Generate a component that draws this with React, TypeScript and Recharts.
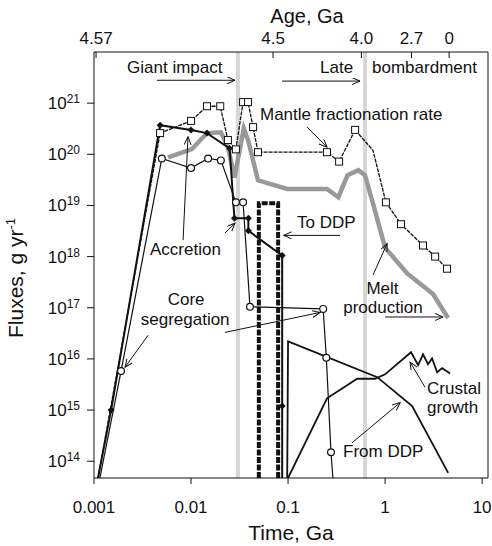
import React from 'react';
import {
  ComposedChart,
  Line,
  XAxis,
  YAxis,
  ReferenceArea,
  ReferenceLine,
  ReferenceDot
} from 'recharts';

const FONT = '"Liberation Sans", Arial, Helvetica, sans-serif';
const INK = '#111';

// lower edge of the flux axis, lines that run off the bottom end here
const BOTTOM = 4.7e13;

// [time in Ga, flux in g/yr]
const accretion = [
  [0.0011, BOTTOM], [0.0015, 1e15], [0.0048, 3.7e20], [0.01, 3.0e20], [0.0146, 2.6e20],
  [0.025, 1.3e20], [0.028, 5.6e18], [0.039, 5.6e18], [0.039, 3.2e18], [0.087, 1.05e18],
  [0.087, 1.2e15], [0.087, BOTTOM]
];

const mantleRate = [
  [0.0011, BOTTOM], [0.0048, 2.6e20], [0.01, 4.5e20], [0.0146, 8.7e20], [0.02, 8.7e20],
  [0.024, 1.9e20], [0.029, 1.25e20], [0.0344, 1.05e21], [0.0387, 1.05e21], [0.0436, 3.4e20],
  [0.049, 1.1e20], [0.252, 1.1e20], [0.336, 7.2e19], [0.491, 3.0e20], [0.75, 1.2e20],
  [1.02, 1.15e19], [1.46, 4.3e18], [2.46, 1.65e18], [3.28, 1.0e18], [4.35, 5.8e17]
];
const mantleUnmarked = [0.75];

const coreSegregation = [
  [0.00115, BOTTOM], [0.0019, 5.8e15], [0.005, 8.3e19], [0.01, 5.4e19], [0.015, 8.3e19],
  [0.0203, 7.6e19], [0.029, 1.15e19], [0.0344, 1.15e19], [0.0405, 1.05e17], [0.23, 9.5e16],
  [0.248, 1.05e16], [0.277, 1.5e14], [0.29, BOTTOM]
];

const meltProduction = [
  [0.0058, 8.7e19], [0.0102, 1.26e20], [0.0146, 2.6e20], [0.0203, 2.7e20], [0.024, 1.4e20],
  [0.028, 3.5e19], [0.035, 3.2e20], [0.0387, 1.9e20], [0.049, 3.1e19], [0.098, 2.1e19],
  [0.252, 2.1e19], [0.33, 1.45e19], [0.41, 3.9e19], [0.53, 4.9e19], [0.62, 3.9e19],
  [0.75, 1.1e19], [1.0, 1.5e18], [1.69, 4.7e17], [3.12, 1.86e17], [4.46, 6.3e16]
];

const toDDP = [[0.05, BOTTOM], [0.05, 1.1e19], [0.079, 1.1e19], [0.079, BOTTOM]];

const fromDDP = [[0.098, BOTTOM], [0.1, 2.2e16], [0.83, 4.4e15], [1.9, 1.2e15], [4.47, 5.9e13]];

const crustalGrowth = [
  [0.1, BOTTOM], [0.252, 1.7e15], [0.516, 4.1e15], [0.79, 4.1e15], [1.0, 5.0e15],
  [1.85, 1.35e16], [2.19, 7.6e15], [2.46, 1.23e16], [2.77, 7.9e15], [3.05, 1.02e16],
  [3.44, 5.5e15], [3.87, 6.6e15], [4.68, 5.2e15]
];

// shaded events: giant impact and start of late bombardment
const bands = [[0.029, 0.032], [0.593, 0.652]];

const timeTicks = [0.001, 0.01, 0.1, 1, 10];
const fluxTicks = [1e14, 1e15, 1e16, 1e17, 1e18, 1e19, 1e20, 1e21];
const ageTickTimes = [0.00105, 0.07, 0.57, 1.87, 4.57];
const ageTickLabels = ['4.57', '4.5', '4.0', '2.7', '0'];

// annotation text: [text, time, flux, anchor]
const notes: [string, number, number, string][] = [
  ['Giant impact', 0.00219, 3.9e21, 'start'],
  ['Late', 0.214, 3.9e21, 'start'],
  ['bombardment', 0.734, 3.9e21, 'start'],
  ['Mantle fractionation rate', 0.0514, 4.7e20, 'start'],
  ['Accretion', 0.00378, 1.07e18, 'start'],
  ['To DDP', 0.124, 3.6e18, 'start'],
  ['Melt', 0.94, 1.9e17, 'middle'],
  ['production', 0.95, 7.8e16, 'middle'],
  ['Core', 0.0089, 1.12e17, 'middle'],
  ['segregation', 0.0087, 4.6e16, 'middle'],
  ['Crustal', 2.71, 2.1e15, 'start'],
  ['growth', 2.71, 8.7e14, 'start'],
  ['From DDP', 0.369, 1.2e14, 'start']
];

// arrows: [t from, flux from, t to, flux to]
const arrows = [
  [0.00446, 2.8e21, 0.0284, 2.8e21],
  [0.0867, 2.7e21, 0.552, 2.7e21],
  [0.157, 3.4e20, 0.252, 1.38e20],
  [0.00828, 2.1e18, 0.00931, 2.2e20],
  [0.0224, 2.9e18, 0.0284, 4.5e18],
  [0.344, 2.6e18, 0.09, 2.6e18],
  [0.752, 4.4e17, 1.05, 1.8e18],
  [1.0, 6.6e16, 3.96, 6.6e16],
  [0.00361, 2.9e16, 0.00209, 6.9e15],
  [0.0224, 3.3e16, 0.214, 8.1e16],
  [2.58, 2.8e15, 1.81, 8.7e15],
  [0.457, 2.3e14, 1.43, 1.4e15]
];

const pts = (a: number[][]) => a.map(([t, f]) => ({ t, f }));

const onEdge = (p: any) => !p.payload || p.payload.f <= BOTTOM;

const SquareDot = (p: any) => {
  if (onEdge(p) || mantleUnmarked.includes(p.payload.t)) return <g key={p.index} />;
  return (
    <rect key={p.index} x={p.cx - 3.5} y={p.cy - 3.5} width={7} height={7}
      fill="#fff" stroke={INK} strokeWidth={1} />
  );
};

const CircleDot = (p: any) => {
  if (onEdge(p)) return <g key={p.index} />;
  return <circle key={p.index} cx={p.cx} cy={p.cy} r={3.4} fill="#fff" stroke={INK} strokeWidth={1.2} />;
};

const DiamondDot = (p: any) => {
  if (onEdge(p)) return <g key={p.index} />;
  const { cx, cy } = p;
  return (
    <polygon key={p.index} points={`${cx},${cy - 3.5} ${cx + 3.5},${cy} ${cx},${cy + 3.5} ${cx - 3.5},${cy}`}
      fill={INK} />
  );
};

const FluxTick = ({ x, y, payload }: any) => (
  <text x={x} y={y} textAnchor="end" fontFamily={FONT} fontSize={17} fill={INK}>
    <tspan dy="0.35em">10</tspan>
    <tspan dy={-6} fontSize={12}>{Math.round(Math.log10(payload.value))}</tspan>
  </text>
);

const AgeTick = ({ x, y, payload }: any) => {
  const i = ageTickTimes.indexOf(payload.value);
  return (
    <g>
      <line x1={x} x2={x} y1={y} y2={y + 6} stroke={INK} strokeWidth={1} />
      <text x={x} y={y - 8} textAnchor="middle" fontFamily={FONT} fontSize={17} fill={INK}>
        {ageTickLabels[i]}
      </text>
    </g>
  );
};

const NoteText = (text: string, anchor: string) => (p: any) => (
  <text x={p.cx} y={p.cy} textAnchor={anchor as any} fontFamily={FONT} fontSize={17} fill={INK}>
    {text}
  </text>
);

const ArrowLine = (p: any) => (
  <line x1={p.x1} y1={p.y1} x2={p.x2} y2={p.y2} stroke={INK} strokeWidth={1} markerEnd="url(#arrowHead)" />
);

const FluxLabel = (p: any) => {
  const cx = 23;
  const cy = p.viewBox.y + p.viewBox.height / 2 + 13;
  return (
    <text x={cx} y={cy} transform={`rotate(-90 ${cx} ${cy})`} textAnchor="middle"
      fontFamily={FONT} fontSize={21} fill={INK}>
      Fluxes, g yr<tspan dy={-8} fontSize={13}>-1</tspan>
    </text>
  );
};

const AgeLabel = (p: any) => (
  <text x={p.viewBox.x + p.viewBox.width / 2 + 16} y={p.viewBox.y + 23} textAnchor="middle"
    fontFamily={FONT} fontSize={20} fill={INK}>
    Age, Ga
  </text>
);

const App = () => {
  const tickStyle = { fill: INK, fontSize: 17, fontFamily: FONT };
  return (
    <div style={{ position: 'absolute', left: 0, top: 0, width: 492, height: 546, background: '#fff' }}>
      <ComposedChart width={492} height={546} margin={{ top: 0, right: 0, bottom: 0, left: 0 }}>
        <defs>
          <marker id="arrowHead" markerWidth={9} markerHeight={8} refX={8} refY={3.5}
            orient="auto" markerUnits="userSpaceOnUse">
            <path d="M0,0 L8,3.5 L0,7" fill="none" stroke={INK} strokeWidth={1} />
          </marker>
        </defs>
        <XAxis
          xAxisId="time"
          type="number"
          dataKey="t"
          scale="log"
          domain={[0.001, 11.5]}
          allowDataOverflow
          ticks={timeTicks}
          interval={0}
          tickFormatter={(v) => String(v)}
          tick={tickStyle}
          tickSize={6}
          tickMargin={17}
          stroke={INK}
          height={68}
          label={{ value: 'Time, Ga', position: 'insideBottom', offset: 6, fontSize: 21, fill: INK, fontFamily: FONT }}
        />
        <XAxis
          xAxisId="age"
          orientation="top"
          type="number"
          dataKey="t"
          scale="log"
          domain={[0.001, 11.5]}
          allowDataOverflow
          ticks={ageTickTimes}
          interval={0}
          tick={<AgeTick />}
          tickLine={false}
          tickSize={0}
          tickMargin={0}
          stroke={INK}
          height={52}
          label={<AgeLabel />}
        />
        <YAxis
          yAxisId="flux"
          type="number"
          dataKey="f"
          scale="log"
          domain={[BOTTOM, 1e22]}
          allowDataOverflow
          ticks={fluxTicks}
          interval={0}
          tick={<FluxTick />}
          tickSize={7}
          tickMargin={7}
          stroke={INK}
          width={94}
          label={<FluxLabel />}
        />
        <YAxis
          yAxisId="frame"
          orientation="right"
          type="number"
          domain={[0, 1]}
          tick={false}
          tickLine={false}
          stroke={INK}
          width={4}
        />

        {bands.map(([a, b], i) => (
          <ReferenceArea key={`band${i}`} xAxisId="time" yAxisId="flux" x1={a} x2={b}
            fill="#d6d6d6" fillOpacity={1} stroke="none" />
        ))}

        <Line xAxisId="time" yAxisId="flux" data={pts(meltProduction)} dataKey="f" type="linear"
          stroke="#999" strokeWidth={4.5} dot={false} isAnimationActive={false} />
        <Line xAxisId="time" yAxisId="flux" data={pts(toDDP)} dataKey="f" type="linear"
          stroke={INK} strokeWidth={4} strokeDasharray="6 1.5" dot={false} isAnimationActive={false} />
        <Line xAxisId="time" yAxisId="flux" data={pts(fromDDP)} dataKey="f" type="linear"
          stroke={INK} strokeWidth={1.8} dot={false} isAnimationActive={false} />
        <Line xAxisId="time" yAxisId="flux" data={pts(crustalGrowth)} dataKey="f" type="linear"
          stroke={INK} strokeWidth={1.8} dot={false} isAnimationActive={false} />
        <Line xAxisId="time" yAxisId="flux" data={pts(coreSegregation)} dataKey="f" type="linear"
          stroke={INK} strokeWidth={1.2} dot={CircleDot} isAnimationActive={false} />
        <Line xAxisId="time" yAxisId="flux" data={pts(accretion)} dataKey="f" type="linear"
          stroke={INK} strokeWidth={2} dot={DiamondDot} isAnimationActive={false} />
        <Line xAxisId="time" yAxisId="flux" data={pts(mantleRate)} dataKey="f" type="linear"
          stroke={INK} strokeWidth={1.3} strokeDasharray="4 1" dot={SquareDot} isAnimationActive={false} />

        {arrows.map(([t1, f1, t2, f2], i) => (
          <ReferenceLine key={`arrow${i}`} xAxisId="time" yAxisId="flux"
            segment={[{ x: t1, y: f1 }, { x: t2, y: f2 }]} shape={ArrowLine} ifOverflow="visible" />
        ))}
        {notes.map(([text, t, f, anchor], i) => (
          <ReferenceDot key={`note${i}`} xAxisId="time" yAxisId="flux" x={t} y={f} r={0}
            shape={NoteText(text, anchor)} ifOverflow="visible" />
        ))}
      </ComposedChart>
    </div>
  );
};

export default App;
